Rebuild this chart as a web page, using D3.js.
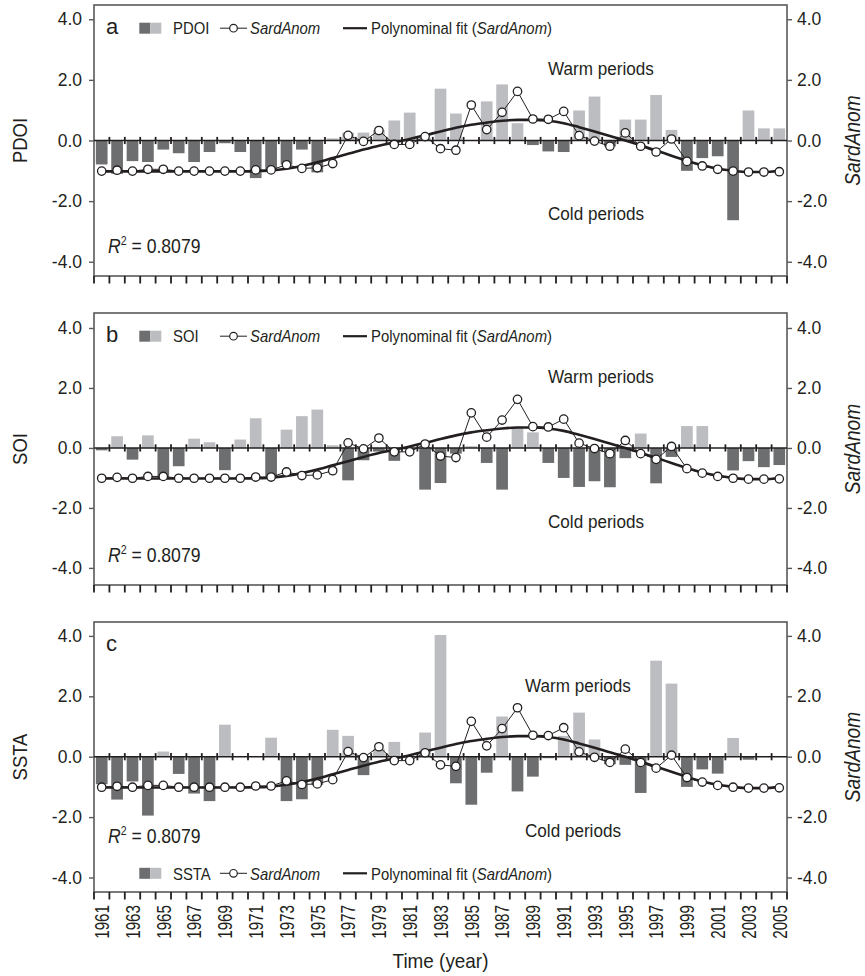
<!DOCTYPE html>
<html><head><meta charset="utf-8">
<script src="https://cdn.jsdelivr.net/npm/d3@7"></script>
<style>
body{margin:0;background:#fff}
svg{display:block}
text{font-family:"Liberation Sans",Arial,Helvetica,sans-serif;fill:#231f20}
</style>
</head><body>
<svg id="chart" width="865" height="976"></svg>
<script>
// ---------------- data ----------------
const years = [1961,1962,1963,1964,1965,1966,1967,1968,1969,1970,1971,1972,1973,1974,1975,
  1976,1977,1978,1979,1980,1981,1982,1983,1984,1985,1986,1987,1988,1989,1990,
  1991,1992,1993,1994,1995,1996,1997,1998,1999,2000,2001,2002,2003,2004,2005];

const pdoi = [-0.79,-1.10,-0.68,-0.71,-0.30,-0.42,-0.71,-0.38,-0.09,-0.38,-1.24,-1.00,-0.79,-0.30,-1.05,
  0.07,0.26,0.26,0.35,0.66,0.92,0.08,1.71,0.89,0.00,1.29,1.85,0.57,-0.15,-0.36,
  -0.38,0.99,1.45,-0.20,0.69,0.69,1.50,0.35,-1.00,-0.58,-0.52,-2.63,0.99,0.40,0.40];

const soi = [-0.08,0.39,-0.39,0.42,-1.00,-0.61,0.31,0.19,-0.74,0.28,0.99,-1.00,0.61,1.06,1.28,
  0.09,-1.08,-0.41,-0.12,-0.43,-0.05,-1.39,-1.17,-0.19,0.06,-0.50,-1.39,0.71,0.52,-0.50,
  -1.00,-1.30,-1.11,-1.31,-0.34,0.48,-1.18,-0.30,0.73,0.73,0.00,-0.75,-0.44,-0.64,-0.57];

const ssta = [-0.91,-1.42,-0.82,-1.95,0.17,-0.57,-1.22,-1.47,1.06,0.00,0.00,0.63,-1.47,-1.41,-0.93,
  0.89,0.69,-0.61,0.26,0.49,0.00,0.80,4.03,-0.88,-1.59,-0.53,1.33,-1.15,-0.66,-0.05,
  0.69,1.46,0.57,-0.25,-0.27,-1.20,3.18,2.42,-1.00,-0.42,-0.56,0.62,-0.10,0.00,0.00];

const sardAnom = [-1.01,-0.98,-1.01,-0.95,-0.95,-1.01,-1.01,-1.01,-1.01,-1.01,-0.97,-0.97,-0.80,-0.92,-0.90,
  -0.76,0.17,-0.03,0.33,-0.13,-0.13,0.13,-0.27,-0.32,1.17,0.36,0.93,1.62,0.71,0.70,
  0.96,0.16,-0.02,-0.19,0.25,-0.19,-0.38,0.05,-0.69,-0.84,-0.95,-1.01,-1.04,-1.04,-1.03];

const polyFit = [-1.02,-1.02,-1.02,-1.02,-1.02,-1.02,-1.02,-1.02,-1.02,-1.02,-1.01,-0.99,-0.93,-0.84,-0.72,
  -0.58,-0.44,-0.30,-0.17,-0.06,0.05,0.17,0.30,0.42,0.52,0.59,0.65,0.68,0.68,0.65,
  0.57,0.44,0.30,0.15,0.00,-0.16,-0.33,-0.50,-0.67,-0.82,-0.93,-1.00,-1.04,-1.04,-1.00];

const yTickValues = [4, 2, 0, -2, -4];
const yearTickLabels = [1961,1963,1965,1967,1969,1971,1973,1975,1977,1979,1981,1983,1985,1987,1989,
  1991,1993,1995,1997,1999,2001,2003,2005];
const r2Value = "0.8079";

// ---------------- layout ----------------
const DARK = "#6d6e70", LIGHT = "#bcbdc0", INK = "#231f20", FRAME = "#58595b";
const L = 94, R = 787;
const svg = d3.select("#chart");

const x = d3.scaleBand().domain(years).range([L, R]).paddingInner(0.24).paddingOuter(0.12);
const step = x.step();
const cx = d => x(d) + x.bandwidth() / 2;
const boundaries = d3.range(years.length + 1).map(k => L + k * step);

const panels = [
  {letter: "a", name: "PDOI", values: pdoi, top: 5, bottom: 276, domain: [-4.47, 4.47], legend: "top", textX: 548, r2Y: 253},
  {letter: "b", name: "SOI", values: soi, top: 313, bottom: 585, domain: [-4.57, 4.5], legend: "top", textX: 548, r2Y: 562},
  {letter: "c", name: "SSTA", values: ssta, top: 622, bottom: 892, domain: [-4.48, 4.46], legend: "bottom", textX: 525, r2Y: 843}
];

function scaledText(g, X, Y, sx, size, str) {
  return g.append("text")
    .attr("transform", `translate(${X},${Y}) scale(${sx},1)`)
    .attr("font-size", size)
    .text(str);
}

function drawLegend(g, p, cy, withLetter) {
  if (withLetter) {
    g.append("text").attr("x", 106).attr("y", p.top + 29).attr("font-size", 22).text(p.letter);
  }
  g.append("rect").attr("x", 139.3).attr("y", cy - 5.5).attr("width", 11).attr("height", 11).attr("fill", DARK);
  g.append("rect").attr("x", 150.3).attr("y", cy - 5.5).attr("width", 11).attr("height", 11).attr("fill", LIGHT);
  scaledText(g, 173, cy + 6.2, 0.93, 16, p.name);
  g.append("line").attr("x1", 220).attr("x2", 247).attr("y1", cy).attr("y2", cy)
    .attr("stroke", INK).attr("stroke-width", 1);
  g.append("circle").attr("cx", 233.5).attr("cy", cy).attr("r", 3.8)
    .attr("fill", "#fff").attr("stroke", INK).attr("stroke-width", 1.2);
  scaledText(g, 250, cy + 6.2, 0.93, 16, "SardAnom").attr("font-style", "italic");
  g.append("line").attr("x1", 343).attr("x2", 367).attr("y1", cy).attr("y2", cy)
    .attr("stroke", INK).attr("stroke-width", 2.2);
  const t = g.append("text")
    .attr("transform", `translate(371,${cy + 6.2}) scale(0.93,1)`)
    .attr("font-size", 16);
  t.append("tspan").text("Polynominal fit (");
  t.append("tspan").attr("font-style", "italic").text("SardAnom");
  t.append("tspan").text(")");
}

panels.forEach(p => {
  const g = svg.append("g");
  const y = d3.scaleLinear().domain(p.domain).range([p.bottom, p.top]);
  const y0 = y(0);

  // bars
  g.selectAll("rect.bar").data(years.map((yr, i) => ({yr, v: p.values[i]})))
    .join("rect").attr("class", "bar")
    .attr("x", d => x(d.yr))
    .attr("width", x.bandwidth())
    .attr("y", d => Math.min(y(d.v), y0))
    .attr("height", d => Math.abs(y(d.v) - y0))
    .attr("fill", d => d.v >= 0 ? LIGHT : DARK);

  // frame
  g.append("rect").attr("x", L).attr("y", p.top).attr("width", R - L).attr("height", p.bottom - p.top)
    .attr("fill", "none").attr("stroke", FRAME).attr("stroke-width", 1.6);

  // zero line with ticks
  g.append("line").attr("x1", L).attr("x2", R).attr("y1", y0).attr("y2", y0)
    .attr("stroke", INK).attr("stroke-width", 1.6);
  g.selectAll("line.zt").data(boundaries.slice(1, -1)).join("line").attr("class", "zt")
    .attr("x1", d => d).attr("x2", d => d).attr("y1", y0 - 3.6).attr("y2", y0 + 3.6)
    .attr("stroke", INK).attr("stroke-width", 1.8);

  // bottom ticks
  g.selectAll("line.bt").data(boundaries).join("line").attr("class", "bt")
    .attr("x1", d => d).attr("x2", d => d).attr("y1", p.bottom).attr("y2", p.bottom + 7.5)
    .attr("stroke", INK).attr("stroke-width", 1.8);

  // y axes
  const fmt = d => d.toFixed(1);
  const la = g.append("g").attr("transform", `translate(${L},0)`)
    .call(d3.axisLeft(y).tickValues(yTickValues).tickFormat(fmt).tickSize(5).tickPadding(7));
  const ra = g.append("g").attr("transform", `translate(${R},0)`)
    .call(d3.axisRight(y).tickValues(yTickValues).tickFormat(fmt).tickSize(5).tickPadding(5));
  [la, ra].forEach(a => {
    a.select(".domain").remove();
    a.selectAll("line").attr("stroke", FRAME).attr("stroke-width", 1.4);
    a.selectAll("text").attr("font-size", 17.5).attr("fill", INK)
      .attr("font-family", '"Liberation Sans",Arial,Helvetica,sans-serif');
  });

  // polynomial fit
  const fitLine = d3.line().x((d, i) => cx(years[i])).y(d => y(d)).curve(d3.curveMonotoneX);
  g.append("path").attr("d", fitLine(polyFit)).attr("fill", "none")
    .attr("stroke", INK).attr("stroke-width", 2.6);

  // SardAnom
  const sLine = d3.line().x((d, i) => cx(years[i])).y(d => y(d));
  g.append("path").attr("d", sLine(sardAnom)).attr("fill", "none")
    .attr("stroke", INK).attr("stroke-width", 1);
  g.selectAll("circle.pt").data(sardAnom).join("circle").attr("class", "pt")
    .attr("cx", (d, i) => cx(years[i])).attr("cy", d => y(d)).attr("r", 4.2)
    .attr("fill", "#fff").attr("stroke", INK).attr("stroke-width", 1.3);

  // legend
  if (p.legend === "top") {
    drawLegend(g, p, p.top + 23.2, true);
  } else {
    g.append("text").attr("x", 106).attr("y", p.top + 29).attr("font-size", 22).text(p.letter);
    drawLegend(g, p, 873.3, false);
  }

  // annotations
  scaledText(g, p.textX, p.top + 70, 0.925, 18.5, "Warm periods");
  scaledText(g, p.textX, p.top + 214.5, 0.925, 18.5, "Cold periods");

  // R^2
  const r2 = g.append("text").attr("transform", `translate(108,${p.r2Y}) scale(0.88,1)`).attr("font-size", 20);
  r2.append("tspan").attr("font-style", "italic").text("R");
  r2.append("tspan").attr("font-size", 12).attr("dy", -8).text("2");
  r2.append("tspan").attr("dy", 8).text(" = " + r2Value);

  // axis titles
  const mid = (p.top + p.bottom) / 2;
  g.append("text").attr("transform", `translate(20,${mid}) rotate(-90) scale(0.88,1)`)
    .attr("text-anchor", "middle").attr("dy", "0.35em").attr("font-size", 21).text(p.name);
  g.append("text").attr("transform", `translate(852,${mid}) rotate(-90) scale(0.89,1)`)
    .attr("text-anchor", "middle").attr("dy", "0.35em").attr("font-size", 21.5)
    .attr("font-style", "italic").text("SardAnom");
});

// year labels (bottom panel only)
const lastBottom = panels[panels.length - 1].bottom;
svg.append("g").selectAll("text").data(yearTickLabels).join("text")
  .attr("transform", d => `translate(${cx(d)},${lastBottom + 13}) rotate(-90) scale(0.76,1)`)
  .attr("text-anchor", "end").attr("dy", "0.36em").attr("font-size", 20)
  .text(d => String(d));

// x title
svg.append("text").attr("transform", `translate(${(L + R) / 2},968) scale(0.9,1)`)
  .attr("text-anchor", "middle").attr("font-size", 21).text("Time (year)");
</script>
</body></html>
